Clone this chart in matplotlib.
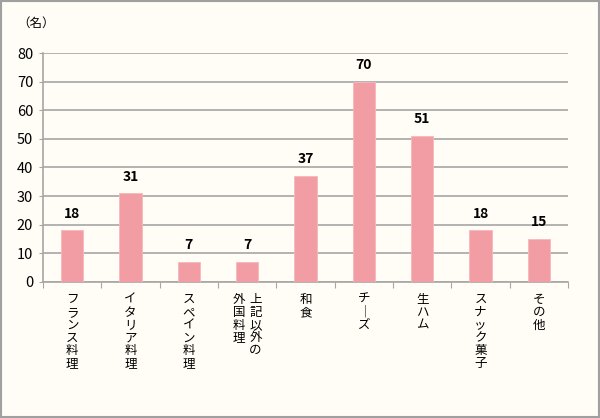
import matplotlib
matplotlib.use('Agg')
import matplotlib.pyplot as plt
from matplotlib.patches import Rectangle

plt.rcParams['font.family'] = ['Noto Sans CJK JP', 'DejaVu Sans']

# data
categories = ['フランス料理', 'イタリア料理', 'スペイン料理', '上記以外の\n外国料理', '和食',
              'チ｜ズ', '生ハム', 'スナック菓子', 'その他']
counts = [18, 31, 7, 7, 37, 70, 51, 18, 15]
yticks = [0, 10, 20, 30, 40, 50, 60, 70, 80]

bg = '#FFFDF6'
bar_color = '#F29CA3'
grid_color = '#A6A6A6'

fig = plt.figure(figsize=(6, 4.18), dpi=100, facecolor=bg)
fig.patches.append(Rectangle((0.002, 0.002), 0.996, 0.995, transform=fig.transFigure,
                             fill=False, edgecolor='#A0A0A0', linewidth=1.5))
ax = fig.add_axes([0.0717, 0.3254, 0.875, 0.5478])
ax.set_facecolor(bg)

x = list(range(len(categories)))
ax.bar(x, counts, width=0.38, color=bar_color, edgecolor='#F7B8BD', linewidth=0.6, zorder=3)

# value labels
for xi, v in zip(x, counts):
    ax.annotate(str(v), (xi, v), xytext=(0, 7), textcoords='offset points',
                ha='center', va='bottom', fontsize=10, fontweight='bold', color='black')

ax.set_xlim(-0.5, len(categories) - 0.5)
ax.set_ylim(0, 80)
ax.set_yticks(yticks)
ax.tick_params(axis='y', labelsize=10.5, length=3, color=grid_color, pad=4)
ax.yaxis.grid(True, color=grid_color, linewidth=1.2, zorder=0)

# x ticks at category boundaries, labels drawn separately as vertical text
ax.set_xticks([i - 0.5 for i in range(len(categories) + 1)])
ax.set_xticklabels([])
ax.tick_params(axis='x', length=4, color=grid_color, direction='out')

for s in ['top', 'right']:
    ax.spines[s].set_visible(False)
for s in ['left', 'bottom']:
    ax.spines[s].set_color(grid_color)
    ax.spines[s].set_linewidth(1.2)

# vertical Japanese labels (columns right-to-left)
trans = ax.get_xaxis_transform()
for xi, lab in zip(x, categories):
    cols = lab.split('\n')
    n = len(cols)
    for j, col in enumerate(cols):
        off = ((n - 1) / 2 - j) * 12
        ax.annotate('\n'.join(col), (xi, 0), xycoords=trans, xytext=(off, -8),
                    textcoords='offset points', ha='center', va='top',
                    fontsize=9, linespacing=0.98, color='black')

fig.text(0.028, 0.945, '（名）', fontsize=9, ha='left', va='center')

fig.savefig('out.png', dpi=100, facecolor=bg)
